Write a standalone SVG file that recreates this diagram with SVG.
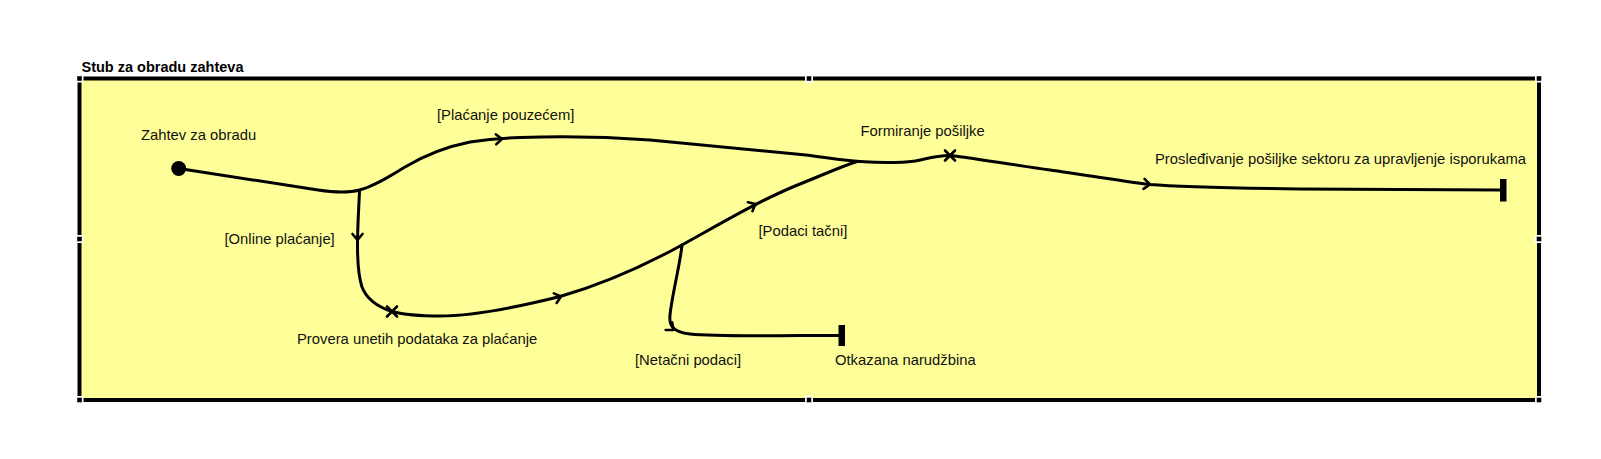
<svg xmlns="http://www.w3.org/2000/svg" width="1601" height="459" viewBox="0 0 1601 459">
<style>
.lbl{font-family:"Liberation Sans",Arial,sans-serif;font-size:14.8px;fill:#111}
.ttl{font-family:"Liberation Sans",Arial,sans-serif;font-size:14.5px;font-weight:bold;fill:#000}
.edge{fill:none;stroke:#000;stroke-width:3;stroke-linecap:round;stroke-linejoin:round}
.arr{fill:none;stroke:#000;stroke-width:2.6;stroke-linecap:round;stroke-linejoin:round}
.hw{fill:#fff}
.hb{fill:#000}
</style>
<defs>
<path id="chev" d="M-6,-5 L0,0 L-6,5"/>
<path id="xmark" d="M-5,-5 L5,5 M-5,5 L5,-5"/>
<g id="handle"><rect class="hw" x="-4" y="-4" width="8" height="8"/><rect class="hb" x="-2.3" y="-2.3" width="4.6" height="4.6"/></g>
</defs>
<rect width="1601" height="459" fill="#fff"/>
<text class="ttl" x="81.5" y="71.5">Stub za obradu zahteva</text>
<g id="frame">
<rect x="79.5" y="78.5" width="1459.5" height="321.5" fill="#ffff99" stroke="#000" stroke-width="4"/>
<use href="#handle" x="79.5" y="78.5"/>
<use href="#handle" x="809" y="78.5"/>
<use href="#handle" x="1539" y="78.5"/>
<use href="#handle" x="79.5" y="239"/>
<use href="#handle" x="1539" y="239"/>
<use href="#handle" x="79.5" y="400"/>
<use href="#handle" x="809" y="400"/>
<use href="#handle" x="1539" y="400"/>
</g>
<g id="connectors">
<path class="edge" d="M179,168.5 L318,190 Q345,194 359.5,190 C375,186 390,176 405,167 C425,155 445,147 470,142 C490,139 505,138 520,137.5 C560,136 610,137 650,140 L806,155 C830,158 845,160.5 860,161.5 C880,163 900,163 915,161 C930,158 935,156 950,155.5"/>
<path class="edge" d="M950,155.5 C980,159 1020,166 1050,170 C1080,174 1120,181 1150,184.5 C1180,187 1230,188 1300,189 L1500,190"/>
<path class="edge" d="M359.5,191 C359,205 357.5,225 357.5,245 C357.5,260 358,275 362,287 C367,300 378,307 392,311.5 C405,315 420,316 440,316 C470,316 510,309 560,296.5 C600,285 640,268 682,245 C720,224 760,200 800,184 C825,174 840,167 857,161.5"/>
<path class="edge" d="M682,245 C680,265 672,295 670,315 C669,325 672,332 690,334 C710,336 750,336 800,335.5 L839,335.5"/>
<use class="arr" href="#chev" transform="translate(502,139) rotate(-3)"/>
<use class="arr" href="#chev" transform="translate(357.5,240) rotate(90)"/>
<use class="arr" href="#chev" transform="translate(561,296.5) rotate(-16)"/>
<use class="arr" href="#chev" transform="translate(755.5,204) rotate(-27)"/>
<use class="arr" href="#chev" transform="translate(673.5,330) rotate(40)"/>
<use class="arr" href="#chev" transform="translate(1150,184.5) rotate(6)"/>
</g>
<g id="node-start"><circle cx="178.7" cy="168.5" r="7.5" fill="#000"/><text class="lbl" x="141" y="140">Zahtev za obradu</text></g>
<g id="node-provera"><use class="arr" href="#xmark" x="392" y="311.5"/><text class="lbl" x="297" y="344">Provera unetih podataka za plaćanje</text></g>
<g id="node-formiranje"><use class="arr" href="#xmark" x="950" y="155.5"/><text class="lbl" x="860.5" y="135.7">Formiranje pošiljke</text></g>
<g id="node-otkazana"><rect x="838.5" y="325" width="6.5" height="21" fill="#000"/><text class="lbl" x="835" y="365">Otkazana narudžbina</text></g>
<g id="node-prosledjivanje"><rect x="1500" y="179" width="6.5" height="22.5" fill="#000"/><text class="lbl" x="1155" y="164">Prosleđivanje pošiljke sektoru za upravljenje isporukama</text></g>
<g id="guards">
<text class="lbl" x="224.5" y="244">[Online plaćanje]</text>
<text class="lbl" x="437" y="120">[Plaćanje pouzećem]</text>
<text class="lbl" x="758.5" y="236">[Podaci tačni]</text>
<text class="lbl" x="635" y="365">[Netačni podaci]</text>
</g>
</svg>
